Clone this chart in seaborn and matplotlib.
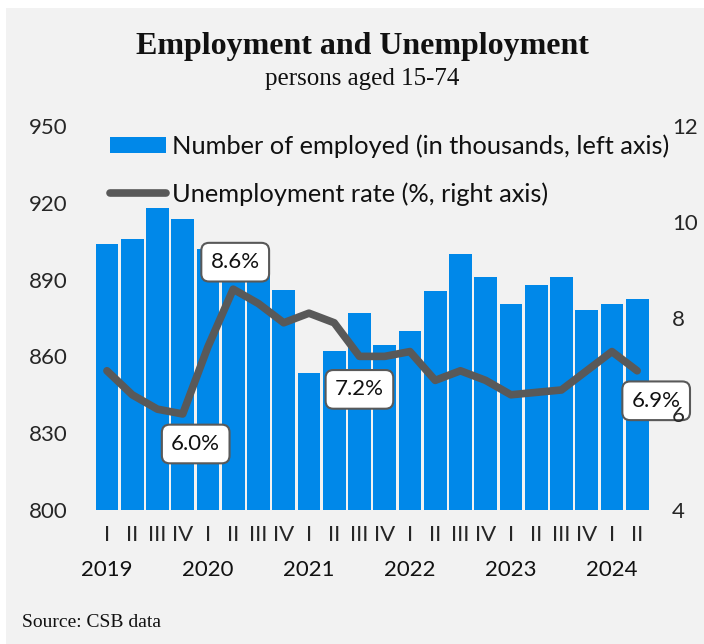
import matplotlib
matplotlib.use("Agg")
import matplotlib.pyplot as plt
import matplotlib.transforms as mtransforms
from matplotlib.patches import Rectangle
import seaborn as sns
import pandas as pd

# ---------------- data ----------------
years = ["2019", "2020", "2021", "2022", "2023", "2024"]
quarters = ["I", "II", "III", "IV"] * 5 + ["I", "II"]
period_year = [y for y in years[:5] for _ in range(4)] + ["2024", "2024"]
employed = [904, 906, 918, 913.5, 902, 896, 892, 886,
            853.5, 862, 877, 864.5, 870, 885.5, 900, 891,
            880.5, 888, 891, 878, 880.5, 882.5]
unemployment = [6.9, 6.4, 6.1, 6.0, 7.4, 8.6, 8.3, 7.9,
                8.1, 7.9, 7.2, 7.2, 7.3, 6.7, 6.9, 6.7,
                6.4, 6.45, 6.5, 6.9, 7.3, 6.9]
label_idx = [3, 5, 10, 21]
label_txt = ["6.0%", "8.6%", "7.2%", "6.9%"]
label_off = [(13, -30), (2, 27), (0, -33), (19, -30)]

title = "Employment and Unemployment"
subtitle = "persons aged 15-74"
source = "Source: CSB data"
lbl_bar = "Number of employed (in thousands, left axis)"
lbl_line = "Unemployment rate (%, right axis)"

BLUE = "#0088E9"
GREY = "#595959"
BG = "#F2F2F2"

df = pd.DataFrame({
    "period": [f"{y} {q}" for y, q in zip(period_year, quarters)],
    "employed": employed,
    "rate": unemployment,
})
df["pos"] = df.index

# ---------------- figure ----------------
sns.set_theme(style="white")
plt.rcParams["font.family"] = ["Lato", "DejaVu Sans"]
plt.rcParams["text.color"] = "#111111"

fig = plt.figure(figsize=(7.04, 6.44), dpi=100)
fig.patches.append(Rectangle((6 / 704, 0), 1, 1 - 8 / 644, transform=fig.transFigure,
                             facecolor=BG, edgecolor="none", zorder=-10))

ax = fig.add_axes([0.134, 0.2081, 0.789, 0.5963])
ax.patch.set_alpha(0)
sns.barplot(data=df, x="period", y="employed", color=BLUE, saturation=1,
            width=0.9, errorbar=None, ax=ax, label=lbl_bar, linewidth=0)
ax.set_ylim(800, 950)
ax.set_yticks(range(800, 951, 30))
ax.set_xlim(-0.5, len(df) - 0.5)
ax.set_xticks(df["pos"])
ax.set_xticklabels(quarters)
ax.set_xlabel("")
ax.set_ylabel("")
ax.tick_params(axis="x", length=0, pad=11, labelsize=16)
ax.tick_params(axis="y", length=0, pad=19, labelsize=16)

ax2 = ax.twinx()
ax2.patch.set_alpha(0)
sns.lineplot(data=df, x="pos", y="rate", ax=ax2, color=GREY, linewidth=5.5,
             label=lbl_line, sort=False, solid_capstyle="round", solid_joinstyle="round")
ax2.set_ylim(4, 12)
ax2.set_yticks(range(4, 13, 2))
ax2.set_xlim(-0.5, len(df) - 0.5)
ax2.set_ylabel("")
ax2.set_xlabel("")
ax2.tick_params(axis="y", length=0, pad=16, labelsize=16)
ax2.yaxis.set_zorder(6)   # right-axis labels drawn over the value boxes, as in the reference

for a in (ax, ax2):
    for s in a.spines.values():
        s.set_visible(False)
    if a.get_legend() is not None:
        a.get_legend().remove()

# year labels under the first quarter of each year
trans = mtransforms.blended_transform_factory(ax.transData, ax.transAxes)
for y in years:
    i = period_year.index(y)
    ax.text(i, -0.156, y, transform=trans, ha="center", va="center", fontsize=16)

# value boxes
for i, t, (dx, dy) in zip(label_idx, label_txt, label_off):
    ax2.annotate(t, xy=(i, unemployment[i]), xytext=(dx, dy), textcoords="offset pixels",
                 ha="center", va="center", fontsize=16, zorder=5,
                 bbox=dict(boxstyle="round,pad=0.42,rounding_size=0.35",
                           fc="white", ec=GREY, lw=1.5))

h1, l1 = ax.get_legend_handles_labels()
h2, l2 = ax2.get_legend_handles_labels()
leg = ax2.legend(h1 + h2, l1 + l2, loc="upper left", bbox_to_anchor=(0.028, 0.978),
                 frameon=False, fontsize=18.3, handlelength=2.2, handleheight=0.6,
                 labelspacing=0.95, handletextpad=0.25, borderaxespad=0, borderpad=0)
leg.set_zorder(10)

fig.text(0.515, 0.928, title, ha="center", va="center", fontsize=23,
         fontweight="bold", family=["Liberation Serif", "DejaVu Serif"])
fig.text(0.515, 0.878, subtitle, ha="center", va="center", fontsize=18,
         family=["Liberation Serif", "DejaVu Serif"])
fig.text(0.031, 0.034, source, ha="left", va="center", fontsize=14,
         family=["Liberation Serif", "DejaVu Serif"])

fig.savefig("out.png", dpi=100)
